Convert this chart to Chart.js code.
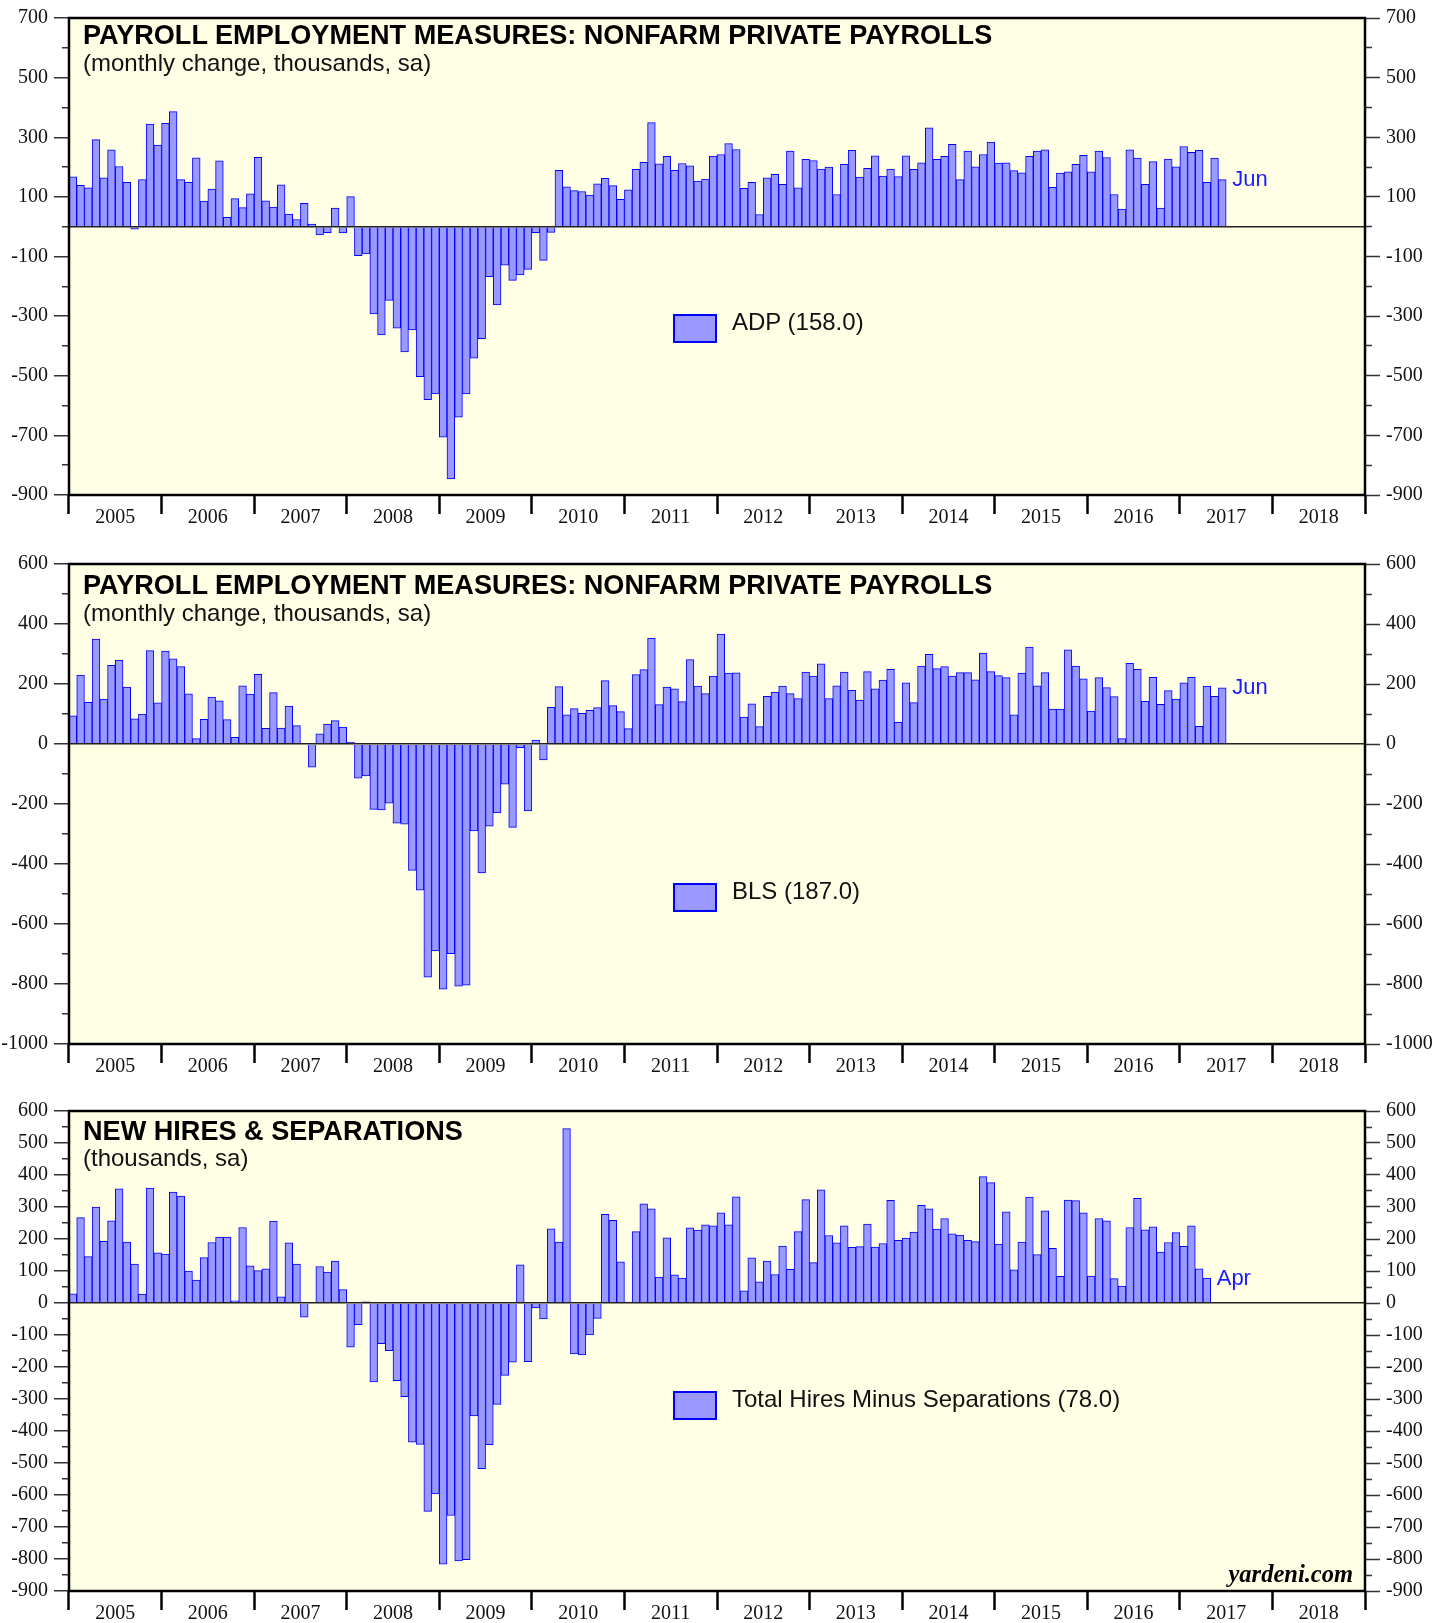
<!DOCTYPE html>
<html lang="en">
<head>
<meta charset="UTF-8">
<title>Payroll Employment Measures</title>
<script src="https://cdn.jsdelivr.net/npm/chart.js@4"></script>
<style>
  body { margin: 0; background: #fff; }
  .page { position: relative; width: 1446px; height: 1623px; overflow: hidden; }
  .page canvas { position: absolute; left: 0; }
  .title { position: absolute; left: 83px; font: bold 27.1px "Liberation Sans", Arial, sans-serif; line-height: 27.1px; color: #000; white-space: nowrap; z-index: 2; }
  .sub { position: absolute; left: 83px; font: 24px "Liberation Sans", Arial, sans-serif; line-height: 24px; color: #111; white-space: nowrap; z-index: 2; }
  .key { position: absolute; left: 732px; font: 24px "Liberation Sans", Arial, sans-serif; line-height: 24px; color: #111; white-space: nowrap; z-index: 2; }
  .swatch { position: absolute; left: 673px; width: 40px; height: 25px; background: #9999ff; border: 2px solid #0000ff; z-index: 2; }
  .last { position: absolute; font: 22px "Liberation Sans", Arial, sans-serif; line-height: 22px; color: #1a1aff; z-index: 2; }
  .yardeni { position: absolute; right: 93px; top: 1561.5px; font: italic bold 24.5px "Liberation Serif", "Times New Roman", serif; line-height: 24.5px; color: #000; z-index: 2; }
</style>
</head>
<body>
<div class="page">
  <canvas id="c1" width="1446" height="541" style="top:0px"></canvas>
  <canvas id="c2" width="1446" height="549" style="top:541px"></canvas>
  <canvas id="c3" width="1446" height="533" style="top:1090px"></canvas>

  <div class="title" style="top:21px">PAYROLL EMPLOYMENT MEASURES: NONFARM PRIVATE PAYROLLS</div>
  <div class="sub" style="top:51.4px">(monthly change, thousands, sa)</div>
  <div class="swatch" style="top:314px"></div>
  <div class="key" id="key1" style="top:310.4px"></div>
  <div class="last" id="last1">Jun</div>

  <div class="title" style="top:570.5px">PAYROLL EMPLOYMENT MEASURES: NONFARM PRIVATE PAYROLLS</div>
  <div class="sub" style="top:601.4px">(monthly change, thousands, sa)</div>
  <div class="swatch" style="top:883px"></div>
  <div class="key" id="key2" style="top:879.2px"></div>
  <div class="last" id="last2">Jun</div>

  <div class="title" style="top:1117px">NEW HIRES &amp; SEPARATIONS</div>
  <div class="sub" style="top:1146.4px">(thousands, sa)</div>
  <div class="swatch" style="top:1391px"></div>
  <div class="key" id="key3" style="top:1386.7px"></div>
  <div class="last" id="last3">Apr</div>

  <div class="yardeni">yardeni.com</div>
</div>
<script>
  const years = ['2005', '2006', '2007', '2008', '2009', '2010', '2011',
                 '2012', '2013', '2014', '2015', '2016', '2017', '2018'];
  const monthNames = ['Jan', 'Feb', 'Mar', 'Apr', 'May', 'Jun',
                      'Jul', 'Aug', 'Sep', 'Oct', 'Nov', 'Dec'];
  const months = years.flatMap(y => monthNames.map(m => m + ' ' + y));

  // ADP private payrolls, Jan 2005 - Jun 2017
  const adp = [
    167, 139, 130, 292, 164, 258, 202, 149, -8, 158, 344, 274,
    347, 386, 158, 149, 231, 86, 126, 221, 31, 94, 64, 110,
    233, 87, 66, 140, 42, 24, 78, 9, -28, -20, 62, -21,
    101, -97, -91, -293, -363, -247, -340, -420, -346, -503, -580, -561,
    -706, -846, -639, -561, -441, -376, -168, -262, -129, -180, -162, -143,
    -20, -113, -19, 189, 134, 121, 118, 106, 144, 162, 138, 92,
    124, 192, 216, 349, 211, 236, 189, 212, 204, 153, 160, 237,
    242, 279, 259, 129, 149, 41, 164, 176, 142, 254, 130, 226,
    222, 193, 200, 108, 209, 256, 166, 196, 238, 170, 193, 168,
    238, 192, 214, 332, 226, 236, 276, 158, 254, 201, 242, 284,
    213, 214, 188, 181, 236, 254, 258, 132, 180, 184, 209, 239,
    184, 254, 232, 108, 59, 258, 230, 142, 218, 62, 227, 201,
    269, 249, 256, 149, 230, 158
  ];

  // BLS private payrolls, Jan 2005 - Jun 2017
  const bls = [
    94, 230, 139, 350, 150, 262, 280, 190, 84, 100, 311, 137,
    310, 284, 258, 167, 18, 82, 156, 144, 81, 22, 194, 166,
    232, 52, 171, 53, 126, 61, 2, -77, 34, 66, 78, 56,
    6, -114, -106, -218, -220, -197, -264, -267, -421, -487, -777, -690,
    -817, -699, -807, -804, -290, -430, -274, -230, -134, -278, -12, -223,
    13, -53, 122, 191, 97, 118, 102, 112, 121, 211, 128, 108,
    51, 231, 248, 353, 131, 190, 184, 141, 281, 193, 168, 226,
    366, 236, 237, 90, 134, 58, 159, 173, 193, 168, 151, 240,
    226, 267, 151, 194, 240, 179, 146, 241, 184, 213, 249, 72,
    204, 138, 260, 299, 251, 258, 226, 238, 238, 214, 303, 241,
    228, 221, 97, 236, 323, 194, 238, 116, 116, 314, 260, 217,
    110, 221, 188, 158, 18, 269, 249, 142, 222, 132, 178, 150,
    204, 222, 59, 193, 159, 187
  ];

  // total hires minus separations, Jan 2005 - Apr 2017
  const hiresMinusSeps = [
    29, 267, 145, 300, 193, 257, 357, 190, 122, 28, 359, 157,
    153, 347, 334, 100, 72, 142, 189, 206, 206, 7, 236, 116,
    101, 107, 256, 19, 188, 122, -44, 0, 114, 97, 131, 42,
    -138, -68, 4, -247, -127, -149, -243, -293, -435, -442, -651, -597,
    -816, -664, -806, -802, -353, -518, -443, -317, -226, -185, 119, -183,
    -15, -50, 232, 190, 545, -159, -162, -100, -48, 277, 258, 129,
    3, 223, 310, 294, 81, 204, 88, 78, 235, 228, 244, 241,
    282, 244, 332, 38, 141, 66, 131, 89, 178, 105, 223, 323,
    126, 354, 211, 188, 241, 174, 176, 247, 175, 186, 321, 196,
    203, 222, 305, 294, 231, 264, 216, 212, 196, 192, 395, 376,
    184, 285, 104, 190, 331, 151, 288, 171, 83, 322, 320, 282,
    84, 264, 257, 76, 53, 236, 327, 229, 238, 159, 189, 220,
    177, 241, 107, 78
  ];

  const panels = [
    { canvas: 'c1', top: 0, padTop: 15, axisH: 46, min: -900, max: 700, step: 100,
      major: v => (v + 100) % 200 === 0, values: adp, name: 'ADP', key: 'key1', last: 'last1' },
    { canvas: 'c2', top: 541, padTop: 23, axisH: 46, min: -1000, max: 600, step: 100,
      major: v => v % 200 === 0, values: bls, name: 'BLS', key: 'key2', last: 'last2' },
    { canvas: 'c3', top: 1090, padTop: 21, axisH: 32, min: -900, max: 600, step: 50,
      major: v => v % 100 === 0, values: hiresMinusSeps, name: 'Total Hires Minus Separations',
      key: 'key3', last: 'last3' }
  ];

  const serif = '"Liberation Serif", "Times New Roman", serif';

  // yellow plot background and black frame
  const framePlugin = {
    id: 'frame',
    beforeDraw(chart) {
      const { ctx, chartArea: a } = chart;
      ctx.save();
      ctx.fillStyle = '#ffffe5';
      ctx.fillRect(a.left, a.top, a.width, a.height);
      ctx.restore();
    },
    afterDraw(chart) {
      const { ctx, chartArea: a } = chart;
      ctx.save();
      ctx.lineWidth = 2.5;
      ctx.strokeStyle = '#000';
      ctx.strokeRect(a.left, a.top, a.width, a.height);
      ctx.restore();
    }
  };

  function yTicks(p) {
    return {
      autoSkip: false,
      stepSize: p.step,
      padding: 6,
      color: '#111',
      font: { family: serif, size: 20 },
      callback: v => p.major(v) ? String(v) : ''
    };
  }

  function renderPanel(p) {
    const chart = new Chart(document.getElementById(p.canvas), {
      type: 'bar',
      data: {
        labels: months,
        datasets: [{
          data: p.values,
          xAxisID: 'x',
          yAxisID: 'y',
          backgroundColor: '#9999ff',
          borderColor: '#0000ff',
          borderWidth: 1,
          barPercentage: 1,
          categoryPercentage: 1
        }]
      },
      options: {
        responsive: false,
        animation: false,
        devicePixelRatio: 1,
        layout: { padding: { top: p.padTop, left: 0, right: 0, bottom: 0 } },
        plugins: { legend: { display: false }, tooltip: { enabled: false } },
        scales: {
          x: { display: false, offset: true },
          years: {
            type: 'category',
            labels: years,
            position: 'bottom',
            offset: true,
            border: { display: false },
            grid: { offset: true, drawOnChartArea: false, tickLength: 19, tickWidth: 2.5, tickColor: '#000' },
            ticks: { padding: -8, autoSkip: false, maxRotation: 0, color: '#111', font: { family: serif, size: 20 } },
            afterFit: s => { s.height = p.axisH; }
          },
          y: {
            position: 'left',
            min: p.min,
            max: p.max,
            border: { display: false },
            ticks: yTicks(p),
            grid: {
              z: 1,
              color: c => (c.tick && c.tick.value === 0) ? '#222' : 'rgba(0,0,0,0)',
              lineWidth: 1.5,
              tickLength: 15,
              tickWidth: 1.5,
              tickColor: '#333',
              tickBorderDash: c => (c.tick && p.major(c.tick.value)) ? [] : [0, 8, 7, 0]
            },
            afterFit: s => { s.width = 69; }
          },
          y2: {
            position: 'right',
            min: p.min,
            max: p.max,
            border: { display: false },
            ticks: yTicks(p),
            grid: {
              drawOnChartArea: false,
              tickLength: 15,
              tickWidth: 1.5,
              tickColor: '#333',
              tickBorderDash: c => (c.tick && p.major(c.tick.value)) ? [] : [7, 8]
            },
            afterFit: s => { s.width = 81; }
          }
        }
      },
      plugins: [framePlugin]
    });

    const lastVal = p.values[p.values.length - 1];
    document.getElementById(p.key).textContent = p.name + ' (' + lastVal.toFixed(1) + ')';

    const bar = chart.getDatasetMeta(0).data[p.values.length - 1];
    const lbl = document.getElementById(p.last);
    lbl.style.left = (bar.x + bar.width / 2 + 6) + 'px';
    lbl.style.top = (p.top + bar.y - 11.5) + 'px';
  }

  panels.forEach(renderPanel);
</script>
</body>
</html>
